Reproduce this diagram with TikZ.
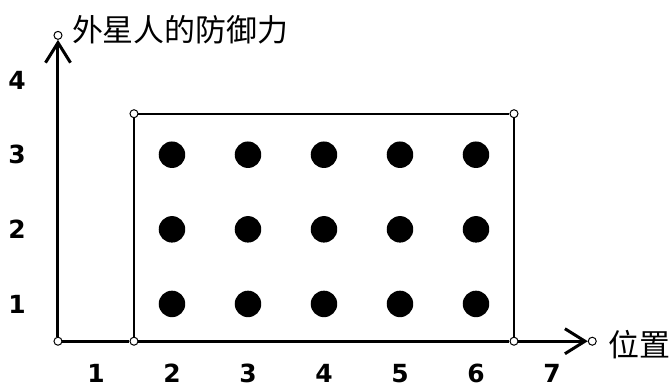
\documentclass[tikz,border=0pt]{standalone}
\usepackage{fontspec}
\newfontfamily\cjkfont{Noto Sans CJK SC}
\newfontfamily\numfont{DejaVu Sans}
\usetikzlibrary{arrows.meta, positioning}

\begin{document}
\begin{tikzpicture}[x=1.52cm, y=1.492cm,
  axis/.style={line width=0.06cm, -{Straight Barb[length=0.4cm, width=0.5cm]}},
  frame/.style={line width=0.04cm},
  knot/.style={circle, draw, fill=white, line width=0.02cm, minimum size=0.16cm, inner sep=0pt},
  alien/.style={circle, fill=black, minimum size=0.53cm, inner sep=0pt},
  tick/.style={font=\numfont\bfseries\fontsize{14.2}{16}\selectfont, inner sep=0pt},
  axisname/.style={font=\cjkfont\fontsize{17.6}{20}\selectfont, inner sep=0pt, anchor=west}]
  \useasboundingbox (-0.263,-0.127) rectangle (8.566,5.074);
  % corner points
  \node[knot] (O) at (0.5,0.5) {};
  \node[knot] (bl) at (1.5,0.5) {};
  \node[knot] (br) at (6.5,0.5) {};
  \node[knot] (tl) at (1.5,3.55) {};
  \node[knot] (tr) at (6.5,3.55) {};
  \node[knot] (xtip) at (7.53,0.5) {};
  \node[knot] (ytip) at (0.5,4.6) {};
  % axes
  \draw[axis] (O) -- (bl) -- (br) -- (xtip);
  \draw[axis] (O) -- (ytip);
  % box
  \draw[frame] (bl) -- (tl) -- (tr) -- (br);
  % aliens
  \foreach \i in {2,...,6}
    \foreach \j in {1,2,3}
      \node[alien] (d\i\j) at (\i,\j) {};
  % ticks
  \foreach \i in {1,...,7}
    \node[tick] (xl\i) at (\i,0.07) {\i};
  \foreach \j in {1,...,4}
    \node[tick] (yl\j) at (-0.04,\j) {\j};
  \node[axisname] (yname) at (0.68,4.67) {外星人的防御力};
  \node[axisname] (xname) at (7.74,0.46) {位置};
\end{tikzpicture}
\end{document}
